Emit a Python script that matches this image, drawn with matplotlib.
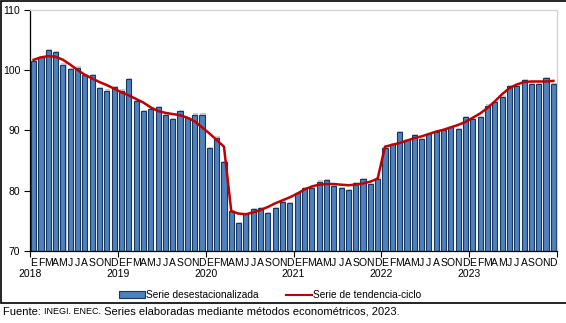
import matplotlib
matplotlib.use("Agg")
import matplotlib.pyplot as plt
from matplotlib.patches import Rectangle
from matplotlib.lines import Line2D
import numpy as np

plt.rcParams['font.family'] = ['Liberation Sans', 'DejaVu Sans']

years = ["2018", "2019", "2020", "2021", "2022", "2023"]
meses = ["E", "F", "M", "A", "M", "J", "J", "A", "S", "O", "N", "D"]

# serie desestacionalizada (mensual, ene-2018 a dic-2023)
desest = [101.5, 102.1, 103.3, 103.0, 100.9, 100.2, 100.4, 99.2, 99.2, 97.0, 96.6, 97.2,
          96.6, 98.5, 94.8, 93.2, 93.5, 93.9, 92.5, 91.8, 93.2, 92.0, 92.6, 92.6,
          87.0, 88.8, 84.7, 76.6, 74.6, 76.1, 76.9, 77.1, 76.3, 77.1, 78.2, 78.0,
          79.6, 80.4, 80.4, 81.5, 81.7, 80.8, 80.4, 80.1, 81.2, 81.9, 81.1, 82.0,
          87.0, 87.7, 89.7, 88.4, 89.2, 88.6, 89.4, 89.7, 90.1, 90.5, 90.2, 92.2,
          91.9, 92.2, 94.1, 94.7, 95.6, 97.4, 97.4, 98.3, 97.7, 97.7, 98.6, 97.7]

# serie de tendencia-ciclo
tendencia = [101.7, 102.1, 102.3, 102.2, 101.7, 100.9, 100.0, 99.2, 98.6, 98.0, 97.5, 96.9,
             96.3, 95.8, 95.2, 94.6, 93.8, 93.2, 92.9, 92.7, 92.5, 92.1, 91.5, 90.5,
             89.5, 88.4, 87.3, 76.6, 76.2, 76.1, 76.4, 76.8, 77.3, 77.9, 78.4, 78.9,
             79.5, 80.2, 80.7, 81.0, 81.1, 81.1, 81.0, 80.9, 81.0, 81.2, 81.5, 82.0,
             87.3, 87.6, 87.9, 88.3, 88.7, 89.0, 89.4, 89.8, 90.1, 90.5, 90.9, 91.4,
             92.1, 92.8, 93.7, 94.8, 96.0, 97.0, 97.6, 98.0, 98.1, 98.1, 98.1, 98.2]

x = np.arange(len(desest))
vals = np.array(desest)

fig = plt.figure(figsize=(5.66, 3.23), dpi=100)
ax = fig.add_axes([30/566, 1-251/323, 527/566, 241.3/323])

# sombra gris de las barras
ax.bar(x + 0.14, vals - 70 + 0.2, bottom=70, width=0.7, color="#c8ccd4", edgecolor="none", zorder=1)
ax.bar(x, vals - 70, bottom=70, width=0.7, color="#4f81bd", edgecolor="#17375e", linewidth=0.8, zorder=2)
ax.plot(x, tendencia, color="#c00000", linewidth=1.8, zorder=3)

ax.set_xlim(-0.5, len(desest) - 0.5)
ax.set_ylim(70, 110)
ax.set_yticks([70, 80, 90, 100, 110])
ax.tick_params(axis='y', labelsize=7.5, length=4, width=0.8, pad=3)
ax.set_xticks(np.arange(-0.5, len(desest), 12))
ax.set_xticklabels([])
ax.tick_params(axis='x', length=4, width=0.8)

for s in ['left', 'bottom']:
    ax.spines[s].set_color('black')
    ax.spines[s].set_linewidth(0.9)
for s in ['top', 'right']:
    ax.spines[s].set_color('#d0d0d0')
    ax.spines[s].set_linewidth(0.9)

trans = ax.get_xaxis_transform()
for i in x:
    ax.text(i, -0.05, meses[i % 12], transform=trans, ha='center', va='center', fontsize=7.5)
for k, y in enumerate(years):
    ax.text(12 * k - 0.5, -0.095, y, transform=trans, ha='center', va='center', fontsize=7.5)

handles = [Rectangle((0, 0), 1, 1, facecolor="#4f81bd", edgecolor="#17375e", linewidth=0.8),
           Line2D([0], [0], color="#c00000", linewidth=1.5)]
labels = ["Serie desestacionalizada", "Serie de tendencia-ciclo"]
fig.legend(handles, labels, loc='center', bbox_to_anchor=(270/566, 1-295/323), ncol=2,
           frameon=False, fontsize=7.3, handlelength=2.6, handleheight=0.6, handletextpad=0.05,
           columnspacing=2.7)

# marco exterior
fig.add_artist(Rectangle((0.5/566, 1-303/323), 1, 302/323, transform=fig.transFigure,
                         fill=False, edgecolor='black', linewidth=1.2))

# fuente
fig.canvas.draw()
r = fig.canvas.get_renderer()
ty = 1 - 312/323
t1 = fig.text(3/566, ty, "Fuente: ", fontsize=8, va='center')
bb = t1.get_window_extent(r)
t2 = fig.text(bb.x1 / fig.bbox.width, ty, "INEGI. ENEC.", fontsize=6.5, va='center')
bb = t2.get_window_extent(r)
fig.text(bb.x1 / fig.bbox.width, ty, " Series elaboradas mediante métodos econométricos, 2023.",
         fontsize=8, va='center')

fig.savefig("out.png", dpi=100)
